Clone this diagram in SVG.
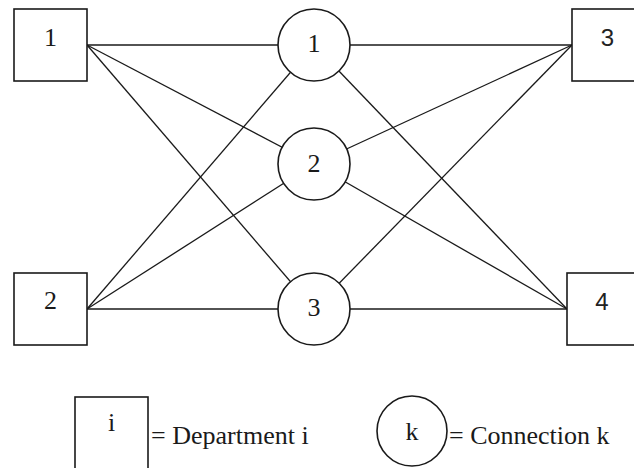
<svg xmlns="http://www.w3.org/2000/svg" width="634" height="468" viewBox="0 0 634 468">
<style>
.box{fill:#fff;stroke:#1a1a1a;stroke-width:1.6}
.node{fill:#fff;stroke:#1a1a1a;stroke-width:1.6}
.edge{stroke:#1a1a1a;stroke-width:1.3;fill:none}
.lbl{font-family:'Liberation Serif','DejaVu Serif',serif;font-size:26px;fill:#1a1a1a;text-anchor:middle}
.lbls{font-family:'Liberation Sans','DejaVu Sans',sans-serif;font-size:24px;fill:#222;text-anchor:middle}
.leg{font-family:'Liberation Serif','DejaVu Serif',serif;font-size:26px;fill:#1a1a1a}
</style>
<rect width="634" height="468" fill="#fff"/>
<g id="connectors">
<line class="edge" x1="87" y1="45" x2="314" y2="45"/>
<line class="edge" x1="87" y1="45" x2="314" y2="164"/>
<line class="edge" x1="87" y1="45" x2="314" y2="309"/>
<line class="edge" x1="87" y1="309" x2="314" y2="45"/>
<line class="edge" x1="87" y1="309" x2="314" y2="164"/>
<line class="edge" x1="87" y1="309" x2="314" y2="309"/>
<line class="edge" x1="314" y1="45" x2="572" y2="45"/>
<line class="edge" x1="314" y1="164" x2="572" y2="45"/>
<line class="edge" x1="314" y1="309" x2="572" y2="45"/>
<line class="edge" x1="314" y1="45" x2="567" y2="309"/>
<line class="edge" x1="314" y1="164" x2="567" y2="309"/>
<line class="edge" x1="314" y1="309" x2="567" y2="309"/>
</g>
<g id="dept1"><rect class="box" x="14" y="9" width="73" height="72"/><text class="lbl" font-family="Liberation Serif, serif" x="50.5" y="46">1</text></g>
<g id="dept2"><rect class="box" x="14" y="273" width="73" height="72"/><text class="lbl" font-family="Liberation Serif, serif" x="50.5" y="309">2</text></g>
<g id="dept3"><rect class="box" x="572" y="9" width="73" height="72"/><text class="lbls" x="607.5" y="46">3</text></g>
<g id="dept4"><rect class="box" x="567" y="273" width="73" height="72"/><text class="lbls" x="602" y="310">4</text></g>
<g id="conn1"><circle class="node" cx="314" cy="45" r="36"/><text class="lbl" font-family="Liberation Serif, serif" x="314" y="52">1</text></g>
<g id="conn2"><circle class="node" cx="314" cy="164" r="36"/><text class="lbl" font-family="Liberation Serif, serif" x="314" y="172">2</text></g>
<g id="conn3"><circle class="node" cx="314" cy="309" r="36"/><text class="lbl" font-family="Liberation Serif, serif" x="314" y="316">3</text></g>
<g id="legend-dept"><rect class="box" x="75" y="397" width="73" height="72"/><text class="lbl" font-family="Liberation Serif, serif" x="111.5" y="431">i</text><text class="leg" font-family="Liberation Serif, serif" x="151" y="444">= Department i</text></g>
<g id="legend-conn"><circle class="node" cx="412" cy="431" r="35"/><text class="lbl" font-family="Liberation Serif, serif" x="412" y="440">k</text><text class="leg" font-family="Liberation Serif, serif" x="449" y="444">= Connection k</text></g>
</svg>
